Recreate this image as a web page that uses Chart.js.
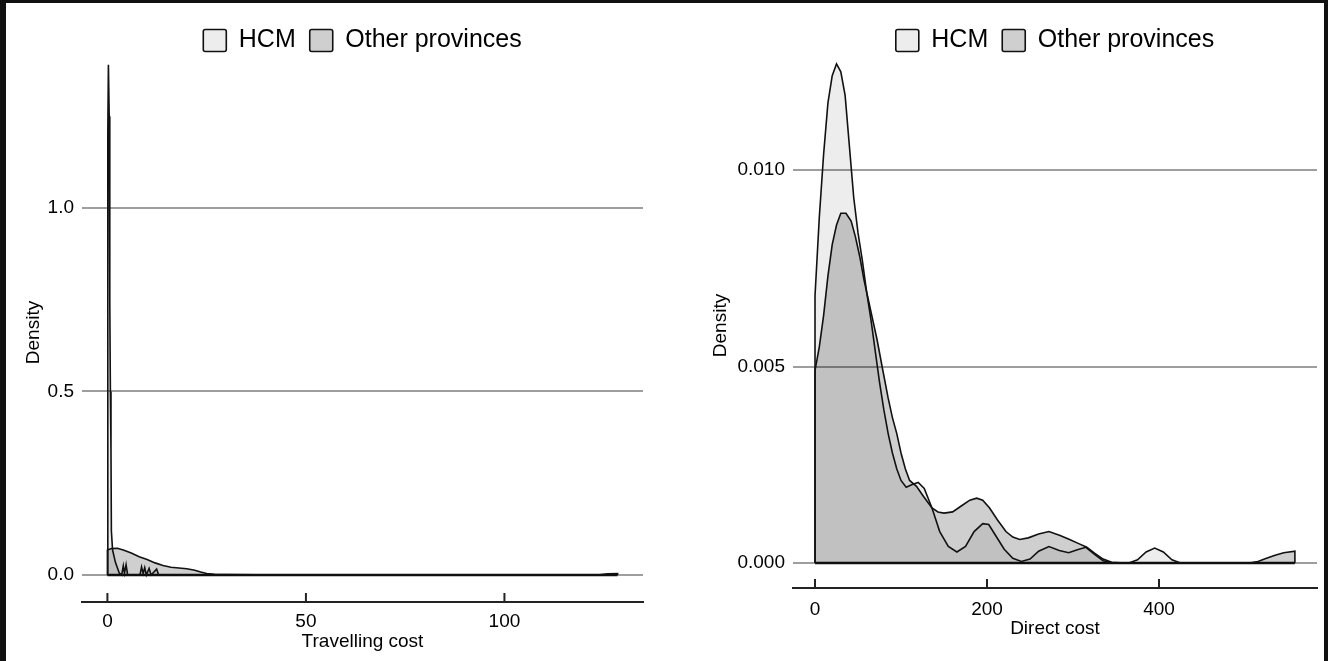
<!DOCTYPE html>
<html>
<head>
<meta charset="utf-8">
<script src="https://cdn.jsdelivr.net/npm/chart.js@4.4.1/dist/chart.umd.min.js"></script>
<style>
  body { margin: 0; background: #fff; }
  canvas { position: absolute; top: 0; }
  #frame {
    position: absolute; left: 0; top: 0; width: 1328px; height: 661px;
    box-sizing: border-box; pointer-events: none;
    border-left: 6px solid #111; border-top: 3px solid #111; border-right: 4px solid #111;
  }
</style>
</head>
<body>
<canvas id="travelChart" width="660" height="661" style="left:0"></canvas>
<canvas id="directChart" width="668" height="661" style="left:660px"></canvas>
<div id="frame"></div>
<script>
// series names
const seriesNames = ['HCM', 'Other provinces'];

// Travelling cost densities (left panel)
const travelHcmX = [0, 0.1, 0.25, 0.45, 0.6, 0.75, 0.9, 1.0, 1.3, 2.0, 3.0, 3.6, 4.0, 4.3, 4.7, 5.1, 8.2, 8.6, 9.0, 9.4, 9.8, 10.5, 11.0, 12.4, 12.9, 38];
const travelHcmY = [0, 1.2, 1.39, 1.25, 0.74, 0.5, 0.34, 0.12, 0.068, 0.035, 0.005, 0, 0.025, 0.005, 0.028, 0, 0, 0.022, 0.004, 0.02, 0, 0.018, 0, 0.016, 0, 0];
const travelOtherX = [0, 0, 1, 2.5, 4, 6, 8, 10, 12, 14, 16, 18, 20, 22, 23.5, 25, 27, 30, 37.5, 40, 120, 124, 126, 128.5, 128.5];
const travelOtherY = [0, 0.068, 0.072, 0.073, 0.068, 0.06, 0.05, 0.042, 0.033, 0.026, 0.021, 0.019, 0.017, 0.013, 0.008, 0.004, 0.002, 0.001, 0.0002, 0, 0, 0.0005, 0.003, 0.004, 0];
const travelXTicks = [0, 50, 100];
const travelYTicks = [0, 0.5, 1.0];
const travelYLabels = ['0.0', '0.5', '1.0'];

// Direct cost densities (right panel)
const directHcmX = [0, 0, 5, 10, 15, 20, 25, 30, 35, 40, 45, 50, 55, 60, 65, 70, 75, 80, 85, 90, 95, 100, 106, 113, 120, 127, 136, 145, 155, 165, 175, 185, 195, 202, 210, 220, 230, 240, 250, 260, 272, 284, 295, 305, 315, 325, 335, 345, 365, 375, 385, 395, 405, 415, 425];
const directHcmY = [0, 0.0068, 0.0088, 0.0104, 0.0117, 0.0124, 0.0127, 0.0125, 0.0119, 0.0106, 0.0093, 0.0084, 0.0077, 0.0069, 0.0062, 0.0054, 0.0046, 0.0039, 0.0033, 0.0028, 0.0024, 0.0021, 0.00193, 0.002, 0.00205, 0.0019, 0.0014, 0.0008, 0.00042, 0.00028, 0.00042, 0.0008, 0.001, 0.00098, 0.0007, 0.00035, 0.00012, 0.00004, 0.0001, 0.0003, 0.00042, 0.00032, 0.00026, 0.00034, 0.0004, 0.00022, 0.00006, 0, 0, 0.00008, 0.00028, 0.00038, 0.00028, 0.00008, 0];
const directOtherX = [0, 0, 5, 10, 15, 20, 25, 30, 36, 42, 47, 52, 57, 62, 67, 72, 78, 85, 90, 95, 100, 105, 110, 118, 126, 136, 143, 150, 160, 170, 180, 188, 195, 203, 212, 222, 230, 238, 248, 260, 272, 285, 296, 306, 316, 325, 335, 345, 360, 505, 515, 525, 535, 545, 558, 558];
const directOtherY = [0, 0.0049, 0.0055, 0.0063, 0.0073, 0.0081, 0.0086, 0.0089, 0.0089, 0.0087, 0.0083, 0.0078, 0.0072, 0.0067, 0.0062, 0.0057, 0.005, 0.0042, 0.0037, 0.0033, 0.0028, 0.0024, 0.0021, 0.00195, 0.0017, 0.0014, 0.0013, 0.00127, 0.0013, 0.00145, 0.0016, 0.00165, 0.0016, 0.0014, 0.0011, 0.0008, 0.00066, 0.0006, 0.00064, 0.00074, 0.0008, 0.0007, 0.0006, 0.0005, 0.0004, 0.00025, 0.0001, 0.00002, 0, 0, 0.00004, 0.00012, 0.0002, 0.00026, 0.0003, 0];
const directXTicks = [0, 200, 400];
const directYTicks = [0, 0.005, 0.010];
const directYLabels = ['0.000', '0.005', '0.010'];

const FONT = "'Liberation Sans', Arial, sans-serif";
const fillColors = ['rgba(0,0,0,0.07)', 'rgba(0,0,0,0.19)'];

function toPoints(xs, ys) {
  return xs.map((x, i) => ({ x: x, y: ys[i] }));
}

// short tick marks pointing up from the x axis line
const upTicks = {
  id: 'upTicks',
  afterDraw(chart) {
    const sx = chart.scales.x;
    const b = chart.chartArea.bottom;
    const ctx = chart.ctx;
    ctx.save();
    ctx.strokeStyle = '#222';
    ctx.lineWidth = 2;
    sx.ticks.forEach(t => {
      const px = sx.getPixelForValue(t.value);
      ctx.beginPath();
      ctx.moveTo(px, b);
      ctx.lineTo(px, b - 9);
      ctx.stroke();
    });
    ctx.restore();
  }
};

function makePanel(id, p) {
  const allX = p.hcmX.concat(p.otherX);
  const datasets = [
    { label: seriesNames[0], data: toPoints(p.hcmX, p.hcmY), backgroundColor: fillColors[0] },
    { label: seriesNames[1], data: toPoints(p.otherX, p.otherY), backgroundColor: fillColors[1] },
    { label: 'base', data: [{ x: Math.min(...allX), y: 0 }, { x: Math.max(...allX), y: 0 }],
      fill: false, borderWidth: 2.5, backgroundColor: '#111' }
  ];
  datasets.forEach((d, i) => {
    d.borderColor = '#111';
    if (i < 2) { d.borderWidth = 1.6; d.fill = 'origin'; }
    d.pointRadius = 0;
    d.tension = 0;
    d.clip = false;
  });

  new Chart(document.getElementById(id), {
    type: 'line',
    data: { datasets: datasets },
    plugins: [upTicks],
    options: {
      responsive: false,
      animation: false,
      layout: { padding: { top: 14, right: p.padRight, bottom: 0, left: 0 } },
      plugins: {
        tooltip: { enabled: false },
        legend: {
          position: 'top',
          fullSize: false,
          labels: {
            font: { family: FONT, size: 25 },
            color: '#000',
            boxWidth: 23,
            boxHeight: 22,
            padding: 14,
            useBorderRadius: true,
            borderRadius: 2,
            filter: item => item.datasetIndex < 2
          }
        }
      },
      scales: {
        x: {
          type: 'linear',
          min: p.xMin,
          max: p.xMax,
          afterFit: s => { s.height = p.xHeight; },
          afterBuildTicks: s => { s.ticks = p.xTicks.map(v => ({ value: v })); },
          grid: { display: false },
          border: { display: true, color: '#222', width: 2 },
          ticks: { font: { family: FONT, size: 19 }, color: '#000', padding: p.xTickPad, maxRotation: 0 },
          title: { display: true, text: p.xTitle, font: { family: FONT, size: 19 }, color: '#000',
                   padding: { top: 0, bottom: p.xTitlePad } }
        },
        y: {
          type: 'linear',
          min: p.yMin,
          max: p.yMax,
          afterFit: s => { s.width = p.yWidth; },
          afterBuildTicks: s => { s.ticks = p.yTicks.map(v => ({ value: v })); },
          grid: { color: '#9e9e9e', lineWidth: 2, drawTicks: false },
          border: { display: false },
          ticks: {
            font: { family: FONT, size: 19 }, color: '#000', padding: 8,
            callback: (v, i) => p.yLabels[i]
          },
          title: { display: true, text: 'Density', font: { family: FONT, size: 19 }, color: '#000',
                   padding: { top: p.yTitlePad, bottom: 0 } }
        }
      }
    }
  });
}

makePanel('travelChart', {
  hcmX: travelHcmX, hcmY: travelHcmY, otherX: travelOtherX, otherY: travelOtherY,
  xTicks: travelXTicks, yTicks: travelYTicks, yLabels: travelYLabels,
  xTitle: 'Travelling cost',
  xMin: -6.4, xMax: 134.9, yMin: -0.0736, yMax: 1.395,
  padRight: 17, yWidth: 82, xHeight: 59, xTickPad: 0, xTitlePad: 8, yTitlePad: 22
});

makePanel('directChart', {
  hcmX: directHcmX, hcmY: directHcmY, otherX: directOtherX, otherY: directOtherY,
  xTicks: directXTicks, yTicks: directYTicks, yLabels: directYLabels,
  xTitle: 'Direct cost',
  xMin: -25.6, xMax: 583.7, yMin: -0.000636, yMax: 0.012723,
  padRight: 11, yWidth: 133, xHeight: 73, xTickPad: 2, xTitlePad: 21, yTitlePad: 49
});
</script>
</body>
</html>
